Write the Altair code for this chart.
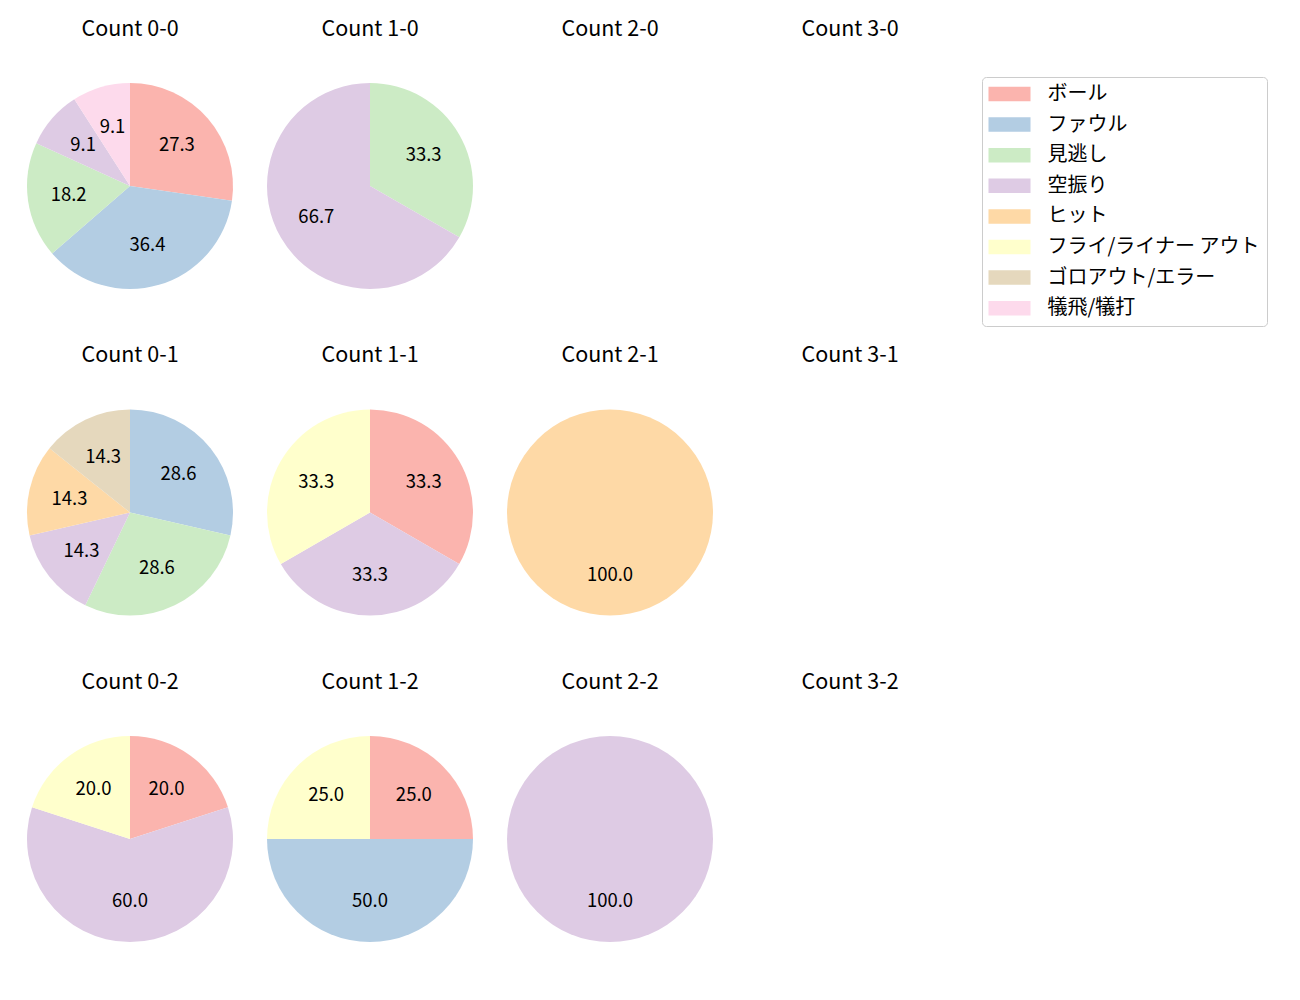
import altair as alt
import pandas as pd

FONT = "Noto Sans CJK JP"

categories = ["ボール", "ファウル", "見逃し", "空振り", "ヒット",
              "フライ/ライナー アウト", "ゴロアウト/エラー", "犠飛/犠打"]
colors = ["#fbb4ae", "#b3cde3", "#ccebc5", "#decbe4", "#fed9a6",
          "#ffffcc", "#e5d8bd", "#fddaec"]

counts = ["0-0", "1-0", "2-0", "3-0",
          "0-1", "1-1", "2-1", "3-1",
          "0-2", "1-2", "2-2", "3-2"]

# percentage share of each category (category order) for each count
pct_0_0 = [27.3, 36.4, 18.2, 9.1, 0, 0, 0, 9.1]
pct_1_0 = [0, 0, 33.3, 66.7, 0, 0, 0, 0]
pct_2_0 = [0, 0, 0, 0, 0, 0, 0, 0]
pct_3_0 = [0, 0, 0, 0, 0, 0, 0, 0]
pct_0_1 = [0, 28.6, 28.6, 14.3, 14.3, 0, 14.3, 0]
pct_1_1 = [33.3, 0, 0, 33.3, 0, 33.3, 0, 0]
pct_2_1 = [0, 0, 0, 0, 100.0, 0, 0, 0]
pct_3_1 = [0, 0, 0, 0, 0, 0, 0, 0]
pct_0_2 = [20.0, 0, 0, 60.0, 0, 20.0, 0, 0]
pct_1_2 = [25.0, 50.0, 0, 0, 0, 25.0, 0, 0]
pct_2_2 = [0, 0, 0, 100.0, 0, 0, 0, 0]
pct_3_2 = [0, 0, 0, 0, 0, 0, 0, 0]

all_pcts = [pct_0_0, pct_1_0, pct_2_0, pct_3_0,
            pct_0_1, pct_1_1, pct_2_1, pct_3_1,
            pct_0_2, pct_1_2, pct_2_2, pct_3_2]

rows = []
for c, pcts in zip(counts, all_pcts):
    for i, (cat, v) in enumerate(zip(categories, pcts)):
        if v > 0:
            rows.append({"count": c, "cat": cat, "idx": i, "value": v})
df = pd.DataFrame(rows, columns=["count", "cat", "idx", "value"])

color_scale = alt.Scale(domain=categories, range=colors)
legend = alt.Legend(
    title=None, orient="none", legendX=962, legendY=1,
    symbolType="M-2.9,-1H2.9V1H-2.9Z", symbolSize=210,
    symbolStrokeWidth=0, symbolOffset=10.5,
    labelFont=FONT, labelFontSize=20, labelColor="#000000",
    labelOffset=28, rowPadding=10.6,
    strokeColor="#cccccc", fillColor="#ffffff", cornerRadius=4, padding=7,
    labelLimit=400,
)


def panel(c):
    d = df[df["count"] == c]
    base = alt.Chart(d).encode(
        theta=alt.Theta("value:Q", stack=True),
        order=alt.Order("idx:Q"),
        color=alt.Color("cat:N", scale=color_scale, legend=legend),
    )
    arc = base.mark_arc(outerRadius=103)
    text = base.mark_text(radius=62, fontSize=18.5, font=FONT).encode(
        text=alt.Text("value:Q", format=".1f"),
        color=alt.value("#000000"),
    )
    return alt.layer(arc, text).properties(
        width=220, height=220,
        title=alt.Title(f"Count {c}", fontSize=21.5, font=FONT,
                        fontWeight="normal", offset=36, anchor="middle",
                        color="#000000"),
    )


grid_rows = []
for r in range(3):
    grid_rows.append(alt.hconcat(*[panel(counts[r * 4 + k]) for k in range(4)],
                                 spacing=20))

chart = alt.vconcat(*grid_rows, spacing=48.5).resolve_scale(
    theta="independent"
).properties(
    padding={"left": 20, "top": 18, "right": 5, "bottom": 5}
).configure_view(stroke=None)

chart.save("out.html", embed_options={"renderer": "svg", "actions": False})
